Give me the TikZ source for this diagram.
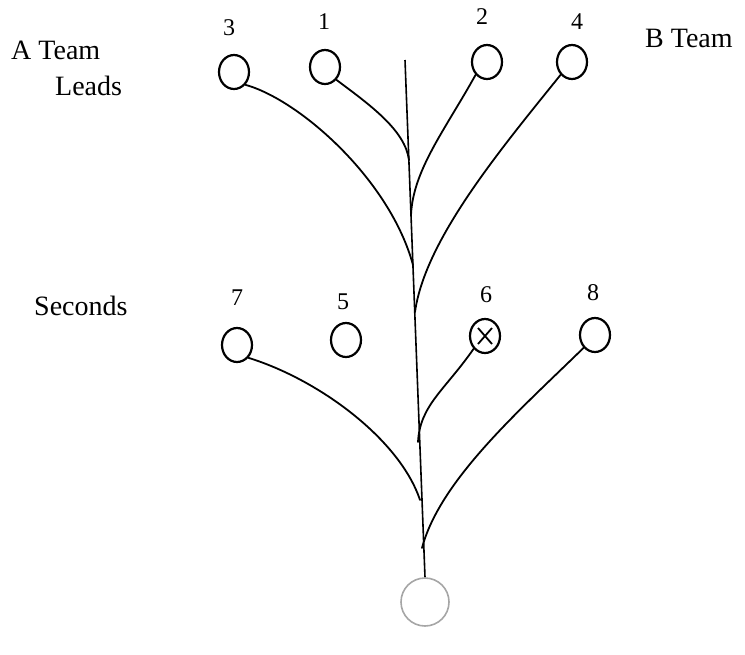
\documentclass[tikz,border=0pt]{standalone}
\usepackage{fontspec}
\setmainfont{Liberation Serif}
\usetikzlibrary{shapes.geometric}
\begin{document}
\begin{tikzpicture}[x=1pt,y=-1pt,
  lbl/.style={font=\fontsize{28}{30}\selectfont, inner sep=0pt},
  num/.style={font=\fontsize{24}{26}\selectfont, inner sep=0pt},
  pl/.style={draw, line width=2.2pt, ellipse, minimum width=30pt, minimum height=34pt, inner sep=0pt},
  br/.style={line width=1.8pt, line cap=round},
  rootc/.style={draw=gray!70, line width=1.6pt, circle, minimum size=48pt, inner sep=0pt}]
\useasboundingbox (0,0) rectangle (745,654);
% labels
\node[lbl, anchor=west] (at) at (11,50) {A Team};
\node[lbl, anchor=west] (ld) at (55,86) {Leads};
\node[lbl, anchor=west] (bt) at (645,38) {B Team};
\node[lbl, anchor=west] (sc) at (34,306) {Seconds};
% numbers
\node[num] (n3) at (229,28) {3};
\node[num] (n1) at (324,22) {1};
\node[num] (n2) at (482,17) {2};
\node[num] (n4) at (577,22) {4};
\node[num] (n7) at (237,298) {7};
\node[num] (n5) at (343,302) {5};
\node[num] (n6) at (486,295) {6};
\node[num] (n8) at (593,293) {8};
% players
\node[pl] (c3) at (234,72) {};
\node[pl] (c1) at (325,67) {};
\node[pl] (c2) at (487,62) {};
\node[pl] (c4) at (572,62) {};
\node[pl] (c7) at (237,345) {};
\node[pl] (c5) at (346,340) {};
\node[pl] (c6) at (485,336) {};
\node[pl] (c8) at (595,335) {};
\draw[line width=1.8pt] (c6.center) +(-7,-8) -- +(7,8);
\draw[line width=1.8pt] (c6.center) +(7,-8) -- +(-7,8);
% root
\node[rootc] (r) at (425,602) {};
% stem
\coordinate (top) at (405,60);
\coordinate (j1) at (409,160);
\coordinate (j2) at (411,215);
\coordinate (j3) at (413,265);
\coordinate (j4) at (415,312);
\coordinate (j6) at (418,442);
\coordinate (j7) at (420,500);
\coordinate (j8) at (422,548);
\draw[line width=1.6pt] (top) -- (r.north);
% branches
\draw[br] (c1.south east) .. controls (370,105) and (405,130) .. (j1);
\draw[br] (c3.south east) .. controls (300,100) and (390,180) .. (j3);
\draw[br] (c2.south west) .. controls (445,130) and (413,170) .. (j2);
\draw[br] (c4.south west) .. controls (500,150) and (425,240) .. (j4);
\draw[br] (c7.south east) .. controls (320,380) and (400,440) .. (j7);
\draw[br] (c6.south west) .. controls (445,390) and (420,405) .. (j6);
\draw[br] (c8.south west) .. controls (520,410) and (440,480) .. (j8);
\end{tikzpicture}
\end{document}
